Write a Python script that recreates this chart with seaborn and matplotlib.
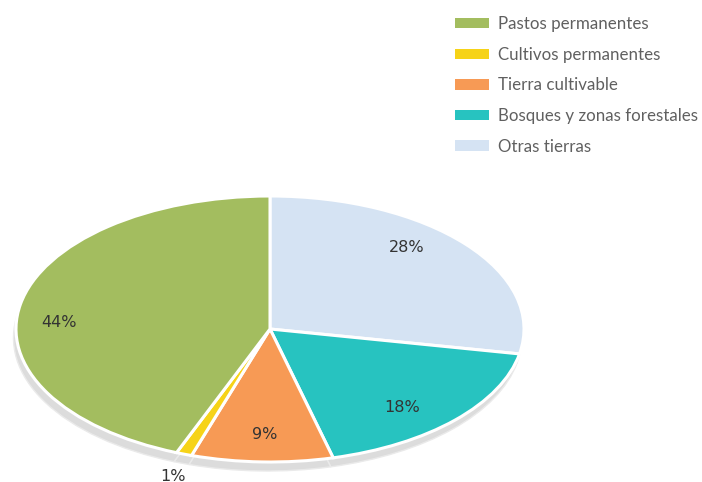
import matplotlib
matplotlib.use("Agg")
import matplotlib.pyplot as plt
from matplotlib.patches import Patch
import seaborn as sns

categories = ["Pastos permanentes", "Cultivos permanentes", "Tierra cultivable",
              "Bosques y zonas forestales", "Otras tierras"]
values = [44, 1, 9, 18, 28]
labels = ["44%", "1%", "9%", "18%", "28%"]
colors = ["#a3bd5f", "#f6d318", "#f79a55", "#27c3c0", "#d5e3f3"]

# label positions (pie units) per slice
label_pos = [(-0.83, 0.05), (-0.38, -1.11), (-0.02, -0.79), (0.52, -0.59), (0.54, 0.61)]

sns.set_theme(style="white")
plt.rcParams['font.family'] = ['Lato', 'DejaVu Sans']

W, H = 702, 482
fig = plt.figure(figsize=(W / 100, H / 100), dpi=100)
cx, cy, rx, ry = 270, 329, 254, 133
x0, x1, y0, y1 = -1.06, 1.06, -1.15, 1.05
ax = fig.add_axes([(cx + x0 * rx) / W, (H - (cy - y0 * ry)) / H,
                   (x1 - x0) * rx / W, (y1 - y0) * ry / H])

# order drawn clockwise from top: Otras, Bosques, Tierra, Cultivos, Pastos
order = [4, 3, 2, 1, 0]
vals = [values[i] for i in order]
cols = [colors[i] for i in order]

# shadow
ax.pie(vals, colors=["#dcdcdc"] * len(vals), startangle=90, counterclock=False,
       center=(-2.5 / rx, -9 / ry), radius=1.0,
       wedgeprops=dict(edgecolor="#eaeaea", linewidth=1))
ax.pie(vals, colors=cols, startangle=90, counterclock=False, radius=1.0,
       wedgeprops=dict(edgecolor="white", linewidth=2.2))
ax.set_aspect('auto')
ax.set_xlim(x0, x1)
ax.set_ylim(y0, y1)
ax.axis('off')

for lab, (px, py) in zip(labels, label_pos):
    ax.text(px, py, lab, ha='center', va='center', fontsize=11.5, color="#333333",
            family=['DejaVu Sans'], clip_on=False)

handles = [Patch(facecolor=c, edgecolor='none', label=l) for c, l in zip(colors, categories)]
leg = fig.legend(handles=handles, loc='upper left', bbox_to_anchor=(440 / W, 1 - 1 / H),
                 frameon=False, handlelength=2.0, handleheight=0.55, handletextpad=0.55,
                 labelspacing=0.86, prop=dict(family=['Lato', 'DejaVu Sans'], size=12.2))
for t in leg.get_texts():
    t.set_color("#606060")

fig.savefig("out.png", dpi=100)
